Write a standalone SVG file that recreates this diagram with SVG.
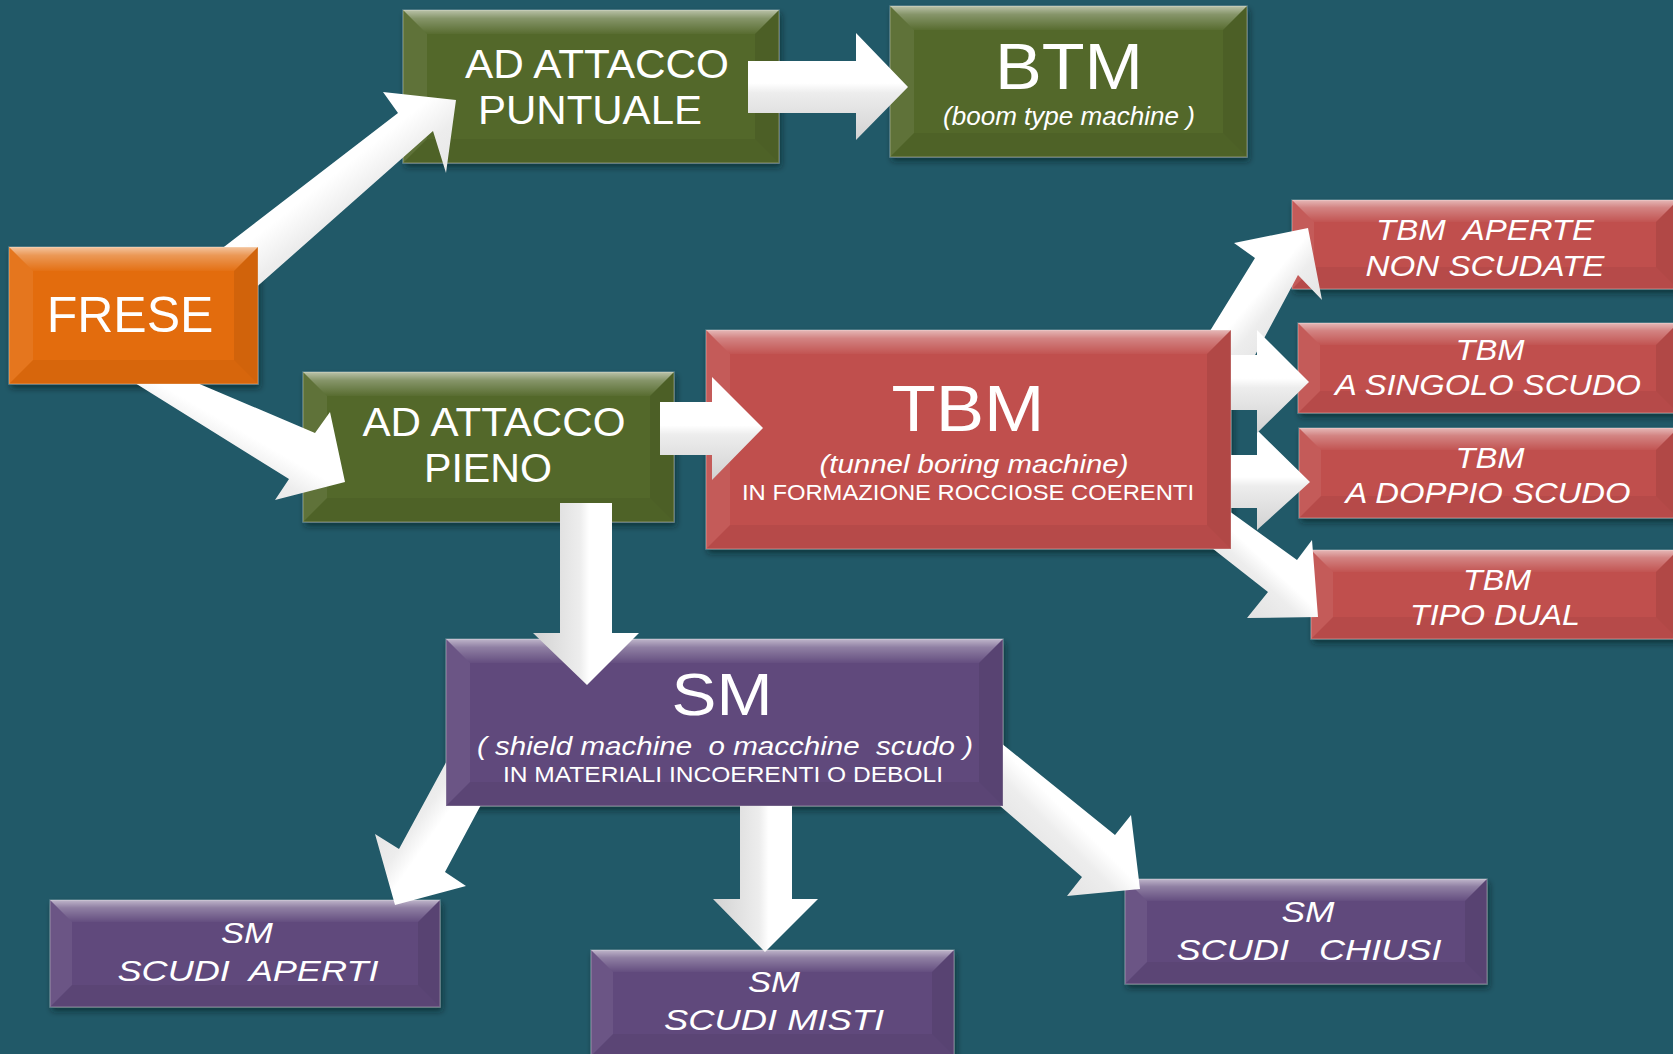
<svg xmlns="http://www.w3.org/2000/svg" width="1673" height="1054" viewBox="0 0 1673 1054">
  <defs>
    <style>
      .t { font-family: "Liberation Sans", Arial, sans-serif; fill: #ffffff; text-anchor: middle; }
      .i { font-style: italic; }
      .pre { white-space: pre; }
      .face { filter: url(#sh); stroke: #ffffff; stroke-opacity: .22; stroke-width: 1.5; }
      .orange .face { fill: #e36c0a; }
      .green .face { fill: #53682c; }
      .red .face { fill: #c0504d; }
      .purple .face { fill: #604a7b; }
      .bt { fill: url(#bevTop); }
      .bl { fill: #ffffff; fill-opacity: .07; }
      .br { fill: #000000; fill-opacity: .08; }
      .bb { fill: #000000; fill-opacity: .05; }
      .aH { fill: url(#aH); }
      .aV { fill: url(#aV); }
      .aUR { fill: url(#aUR); }
      .aDR { fill: url(#aDR); }
      .aDL { fill: url(#aDL); }
    </style>
    <filter id="sh" x="-10%" y="-10%" width="125%" height="140%">
      <feDropShadow dx="2" dy="4" stdDeviation="3" flood-color="#061a20" flood-opacity="0.6"/>
    </filter>
    <linearGradient id="bevTop" x1="0" y1="0" x2="0" y2="1">
      <stop offset="0" stop-color="#ffffff" stop-opacity=".6"/>
      <stop offset=".35" stop-color="#ffffff" stop-opacity=".3"/>
      <stop offset="1" stop-color="#ffffff" stop-opacity=".03"/>
    </linearGradient>
    <!-- block arrow shading: lit side white, far side soft grey -->
    <linearGradient id="aH" x1="0" y1="0" x2="0" y2="1">
      <stop offset="0" stop-color="#ffffff"/>
      <stop offset=".47" stop-color="#ffffff"/>
      <stop offset=".56" stop-color="#ededed"/>
      <stop offset="1" stop-color="#d2d2d2"/>
    </linearGradient>
    <linearGradient id="aV" href="#aH" x1="1" y1="0" x2="0" y2="0"/>
    <linearGradient id="aUR" href="#aH" x1="0" y1="0" x2="1" y2="1"/>
    <linearGradient id="aDR" href="#aH" x1="1" y1="0" x2="0" y2="1"/>
    <linearGradient id="aDL" href="#aH" x1="1" y1="1" x2="0" y2="0"/>
    <!-- masks that keep arrow tails hidden behind their source boxes -->
    <clipPath id="offFrese"><path clip-rule="evenodd" d="M0 0H1673V1054H0Z M9 247H258V384H9Z"/></clipPath>
    <clipPath id="offTbm"><path clip-rule="evenodd" d="M0 0H1673V1054H0Z M706 330H1231V549H706Z"/></clipPath>
    <clipPath id="offSm"><path clip-rule="evenodd" d="M0 0H1673V1054H0Z M446 639H1003V806H446Z"/></clipPath>
  </defs>

  <rect width="1673" height="1054" fill="#215968"/>

  <g id="nodes">
    <g id="n-frese" class="node orange">
      <rect class="face" x="9" y="247" width="249" height="137"/>
      <polygon class="bt" points="9,247 258,247 234,271 33,271"/>
      <polygon class="bl" points="9,247 33,271 33,360 9,384"/>
      <polygon class="br" points="258,247 258,384 234,360 234,271"/>
      <polygon class="bb" points="9,384 33,360 234,360 258,384"/>
      <text class="t" x="130" y="332" font-size="50">FRESE</text>
    </g>

    <g id="n-puntuale" class="node green">
      <rect class="face" x="403" y="10" width="376" height="153"/>
      <polygon class="bt" points="403,10 779,10 755,34 427,34"/>
      <polygon class="bl" points="403,10 427,34 427,139 403,163"/>
      <polygon class="br" points="779,10 779,163 755,139 755,34"/>
      <polygon class="bb" points="403,163 427,139 755,139 779,163"/>
      <text class="t" x="597" y="78" font-size="40" textLength="264" lengthAdjust="spacingAndGlyphs">AD ATTACCO</text>
      <text class="t" x="590" y="124" font-size="40" textLength="224" lengthAdjust="spacingAndGlyphs">PUNTUALE</text>
    </g>

    <g id="n-btm" class="node green">
      <rect class="face" x="890" y="6" width="357" height="151"/>
      <polygon class="bt" points="890,6 1247,6 1223,30 914,30"/>
      <polygon class="bl" points="890,6 914,30 914,133 890,157"/>
      <polygon class="br" points="1247,6 1247,157 1223,133 1223,30"/>
      <polygon class="bb" points="890,157 914,133 1223,133 1247,157"/>
      <text class="t" x="1069" y="89" font-size="64" textLength="148" lengthAdjust="spacingAndGlyphs">BTM</text>
      <text class="t i" x="1069" y="125" font-size="25" textLength="252" lengthAdjust="spacingAndGlyphs">(boom type machine )</text>
    </g>

    <g id="n-pieno" class="node green">
      <rect class="face" x="303" y="372" width="371" height="150"/>
      <polygon class="bt" points="303,372 674,372 650,396 327,396"/>
      <polygon class="bl" points="303,372 327,396 327,498 303,522"/>
      <polygon class="br" points="674,372 674,522 650,498 650,396"/>
      <polygon class="bb" points="303,522 327,498 650,498 674,522"/>
      <text class="t" x="494" y="436" font-size="40" textLength="263" lengthAdjust="spacingAndGlyphs">AD ATTACCO</text>
      <text class="t" x="488" y="482" font-size="40" textLength="128" lengthAdjust="spacingAndGlyphs">PIENO</text>
    </g>

    <g id="n-tbm" class="node red">
      <rect class="face" x="706" y="330" width="525" height="219"/>
      <polygon class="bt" points="706,330 1231,330 1207,354 730,354"/>
      <polygon class="bl" points="706,330 730,354 730,525 706,549"/>
      <polygon class="br" points="1231,330 1231,549 1207,525 1207,354"/>
      <polygon class="bb" points="706,549 730,525 1207,525 1231,549"/>
      <text class="t" x="968" y="431" font-size="64" textLength="153" lengthAdjust="spacingAndGlyphs">TBM</text>
      <text class="t i" x="974" y="473" font-size="26" textLength="309" lengthAdjust="spacingAndGlyphs">(tunnel boring machine)</text>
      <text class="t" x="968" y="500" font-size="22" textLength="452" lengthAdjust="spacingAndGlyphs">IN FORMAZIONE ROCCIOSE COERENTI</text>
    </g>

    <g id="n-tbm-aperte" class="node red">
      <rect class="face" x="1292" y="200" width="386" height="89"/>
      <polygon class="bt" points="1292,200 1678,200 1656,222 1314,222"/>
      <polygon class="bl" points="1292,200 1314,222 1314,267 1292,289"/>
      <polygon class="br" points="1678,200 1678,289 1656,267 1656,222"/>
      <polygon class="bb" points="1292,289 1314,267 1656,267 1678,289"/>
      <text class="t i pre" xml:space="preserve" x="1485" y="240" font-size="29" textLength="218" lengthAdjust="spacingAndGlyphs">TBM  APERTE</text>
      <text class="t i" x="1485" y="276" font-size="29" textLength="239" lengthAdjust="spacingAndGlyphs">NON SCUDATE</text>
    </g>

    <g id="n-tbm-singolo" class="node red">
      <rect class="face" x="1298" y="323" width="380" height="90"/>
      <polygon class="bt" points="1298,323 1678,323 1656,345 1320,345"/>
      <polygon class="bl" points="1298,323 1320,345 1320,391 1298,413"/>
      <polygon class="br" points="1678,323 1678,413 1656,391 1656,345"/>
      <polygon class="bb" points="1298,413 1320,391 1656,391 1678,413"/>
      <text class="t i" x="1490" y="360" font-size="30" textLength="69" lengthAdjust="spacingAndGlyphs">TBM</text>
      <text class="t i" x="1488" y="395" font-size="30" textLength="306" lengthAdjust="spacingAndGlyphs">A SINGOLO SCUDO</text>
    </g>

    <g id="n-tbm-doppio" class="node red">
      <rect class="face" x="1299" y="428" width="379" height="90"/>
      <polygon class="bt" points="1299,428 1678,428 1656,450 1321,450"/>
      <polygon class="bl" points="1299,428 1321,450 1321,496 1299,518"/>
      <polygon class="br" points="1678,428 1678,518 1656,496 1656,450"/>
      <polygon class="bb" points="1299,518 1321,496 1656,496 1678,518"/>
      <text class="t i" x="1490" y="468" font-size="30" textLength="69" lengthAdjust="spacingAndGlyphs">TBM</text>
      <text class="t i" x="1488" y="503" font-size="30" textLength="285" lengthAdjust="spacingAndGlyphs">A DOPPIO SCUDO</text>
    </g>

    <g id="n-tbm-dual" class="node red">
      <rect class="face" x="1311" y="550" width="367" height="89"/>
      <polygon class="bt" points="1311,550 1678,550 1656,572 1333,572"/>
      <polygon class="bl" points="1311,550 1333,572 1333,617 1311,639"/>
      <polygon class="br" points="1678,550 1678,639 1656,617 1656,572"/>
      <polygon class="bb" points="1311,639 1333,617 1656,617 1678,639"/>
      <text class="t i" x="1497" y="590" font-size="30" textLength="68" lengthAdjust="spacingAndGlyphs">TBM</text>
      <text class="t i" x="1495" y="625" font-size="30" textLength="170" lengthAdjust="spacingAndGlyphs">TIPO DUAL</text>
    </g>

    <g id="n-sm" class="node purple">
      <rect class="face" x="446" y="639" width="557" height="167"/>
      <polygon class="bt" points="446,639 1003,639 979,663 470,663"/>
      <polygon class="bl" points="446,639 470,663 470,782 446,806"/>
      <polygon class="br" points="1003,639 1003,806 979,782 979,663"/>
      <polygon class="bb" points="446,806 470,782 979,782 1003,806"/>
      <text class="t" x="722" y="715" font-size="60" textLength="101" lengthAdjust="spacingAndGlyphs">SM</text>
      <text class="t i pre" xml:space="preserve" x="725" y="755" font-size="25" textLength="496" lengthAdjust="spacingAndGlyphs">( shield machine  o macchine  scudo )</text>
      <text class="t" x="723" y="782" font-size="22" textLength="440" lengthAdjust="spacingAndGlyphs">IN MATERIALI INCOERENTI O DEBOLI</text>
    </g>

    <g id="n-sm-aperti" class="node purple">
      <rect class="face" x="50" y="900" width="390" height="107"/>
      <polygon class="bt" points="50,900 440,900 418,922 72,922"/>
      <polygon class="bl" points="50,900 72,922 72,985 50,1007"/>
      <polygon class="br" points="440,900 440,1007 418,985 418,922"/>
      <polygon class="bb" points="50,1007 72,985 418,985 440,1007"/>
      <text class="t i" x="247" y="943" font-size="30" textLength="52" lengthAdjust="spacingAndGlyphs">SM</text>
      <text class="t i pre" xml:space="preserve" x="248" y="981" font-size="30" textLength="261" lengthAdjust="spacingAndGlyphs">SCUDI  APERTI</text>
    </g>

    <g id="n-sm-misti" class="node purple">
      <rect class="face" x="591" y="950" width="363" height="106"/>
      <polygon class="bt" points="591,950 954,950 932,972 613,972"/>
      <polygon class="bl" points="591,950 613,972 613,1034 591,1056"/>
      <polygon class="br" points="954,950 954,1056 932,1034 932,972"/>
      <polygon class="bb" points="591,1056 613,1034 932,1034 954,1056"/>
      <text class="t i" x="774" y="992" font-size="30" textLength="52" lengthAdjust="spacingAndGlyphs">SM</text>
      <text class="t i" x="774" y="1030" font-size="30" textLength="220" lengthAdjust="spacingAndGlyphs">SCUDI MISTI</text>
    </g>

    <g id="n-sm-chiusi" class="node purple">
      <rect class="face" x="1125" y="879" width="362" height="105"/>
      <polygon class="bt" points="1125,879 1487,879 1465,901 1147,901"/>
      <polygon class="bl" points="1125,879 1147,901 1147,962 1125,984"/>
      <polygon class="br" points="1487,879 1487,984 1465,962 1465,901"/>
      <polygon class="bb" points="1125,984 1147,962 1465,962 1487,984"/>
      <text class="t i" x="1308" y="922" font-size="30" textLength="53" lengthAdjust="spacingAndGlyphs">SM</text>
      <text class="t i pre" xml:space="preserve" x="1309" y="960" font-size="30" textLength="265" lengthAdjust="spacingAndGlyphs">SCUDI   CHIUSI</text>
    </g>
  </g>

  <g id="connectors">
    <!-- FRESE branches -->
    <polygon id="c-frese-puntuale" class="aUR" clip-path="url(#offFrese)" points="155,300 398,113 383,92 456,100 446,173 433,131 208,330"/>
    <polygon id="c-frese-pieno" class="aDR" clip-path="url(#offFrese)" points="96,340 315,433 330,412 345,482 275,500 289,479 66,340"/>
    <!-- second level -->
    <polygon id="c-puntuale-btm" class="aH" points="748,61 856,61 856,33 908,87 856,140 856,113 748,113"/>
    <polygon id="c-pieno-tbm" class="aH" points="660,402 712,402 712,377 763,428 712,480 712,455 660,455"/>
    <polygon id="c-pieno-sm" class="aV" points="560,503 560,633 533,633 587,685 639,633 612,633 612,503"/>
    <!-- TBM families -->
    <polygon id="c-tbm-aperte" class="aUR" clip-path="url(#offTbm)" points="1176,386 1255,258 1234,243 1308,228 1322,300 1298,275 1231,400"/>
    <polygon id="c-tbm-dual" class="aDR" clip-path="url(#offTbm)" points="1200,490 1297,560 1312,540 1318,617 1247,618 1268,592 1180,523"/>
    <polygon id="c-tbm-doppio" class="aH" clip-path="url(#offTbm)" points="1225,455 1257,455 1257,430 1310,482 1257,530 1257,508 1225,508"/>
    <polygon id="c-tbm-singolo" class="aH" clip-path="url(#offTbm)" points="1225,355 1257,355 1257,330 1309,382 1257,433 1257,410 1225,410"/>
    <!-- SM families -->
    <polygon id="c-sm-aperti" class="aDL" clip-path="url(#offSm)" points="469,720 399,849 375,834 395,905 466,886 445,872 505,760"/>
    <polygon id="c-sm-misti" class="aV" clip-path="url(#offSm)" points="740,800 740,899 713,899 765,952 818,899 792,899 792,800"/>
    <polygon id="c-sm-chiusi" class="aDR" clip-path="url(#offSm)" points="980,726 1115,835 1131,815 1140,889 1067,896 1082,877 970,780"/>
  </g>
</svg>
